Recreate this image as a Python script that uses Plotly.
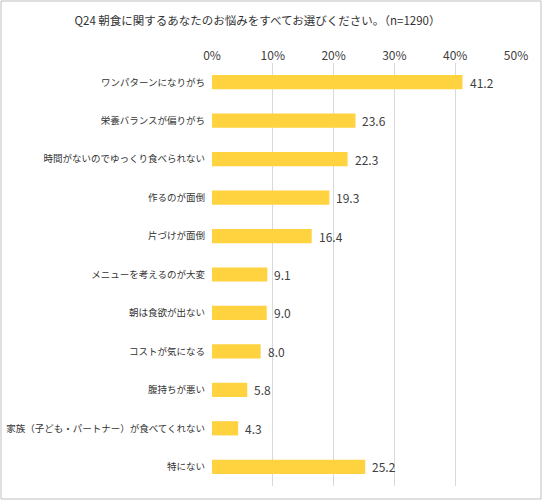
import plotly.graph_objects as go

categories = [
    "ワンパターンになりがち",
    "栄養バランスが偏りがち",
    "時間がないのでゆっくり食べられない",
    "作るのが面倒",
    "片づけが面倒",
    "メニューを考えるのが大変",
    "朝は食欲が出ない",
    "コストが気になる",
    "腹持ちが悪い",
    "家族（子ども・パートナー）が食べてくれない",
    "特にない",
]
values = [41.2, 23.6, 22.3, 19.3, 16.4, 9.1, 9.0, 8.0, 5.8, 4.3, 25.2]
tick_vals = [0, 10, 20, 30, 40, 50]
tick_text = ["0%", "10%", "20%", "30%", "40%", "50%"]

W, H = 542, 500
ml, mr, mt, mb = 212, 26, 63, 14
pw, ph = W - ml - mr, H - mt - mb
FONT = "Noto Sans CJK JP, Meiryo, sans-serif"

fig = go.Figure()
fig.add_trace(go.Bar(
    x=values, y=categories, orientation="h", width=0.37,
    marker=dict(color="#FFD23F", line=dict(width=0)),
    hoverinfo="skip",
))
# value labels a few px right of each bar end
for c, v in zip(categories, values):
    fig.add_annotation(x=v, y=c, text=f"{v:.1f}", showarrow=False,
                       xanchor="left", xshift=5, yanchor="middle",
                       font=dict(size=12, color="#404040", family=FONT))

fig.update_layout(
    width=W, height=H, margin=dict(l=ml, r=mr, t=mt, b=mb, autoexpand=False),
    paper_bgcolor="white", plot_bgcolor="white", showlegend=False,
    font=dict(family=FONT, color="#404040"),
    title=dict(text="Q24 朝食に関するあなたのお悩みをすべてお選びください。（n=1290）",
               x=0.475, xanchor="center", y=0.958, yanchor="middle",
               font=dict(size=11.5, color="#333333", family=FONT)),
    xaxis=dict(side="top", range=[0, 50], tickvals=tick_vals, ticktext=tick_text,
               showgrid=True, gridcolor="#d9d9d9", gridwidth=1, zeroline=False,
               showline=False, ticks="", automargin=False,
               tickfont=dict(size=12, color="#404040")),
    yaxis=dict(autorange="reversed", showgrid=False, zeroline=False, showline=False,
               ticks="", ticklabelstandoff=6, automargin=False,
               tickfont=dict(size=9.5, color="#333333")),
    shapes=[dict(type="rect", xref="paper", yref="paper",
                 x0=(1 - ml) / pw, x1=(W - 1 - ml) / pw,
                 y0=-(mb - 1) / ph, y1=1 + (mt - 1) / ph,
                 line=dict(color="#bfbfbf", width=1))],
)
# page body has a default 8px margin; drop it so the figure sits at the window corner
fig.write_html("out.html", config={"displayModeBar": False},
               post_script="document.body.style.margin='0';")
